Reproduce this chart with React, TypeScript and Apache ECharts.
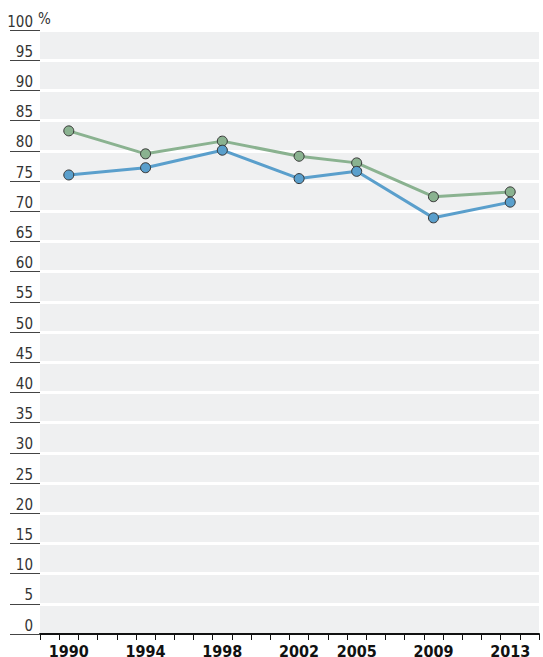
import React, { useEffect, useRef } from "react";
import * as echarts from "echarts";

const years = [1990, 1994, 1998, 2002, 2005, 2009, 2013];
const greenValues = [83.3, 79.5, 81.6, 79.1, 78.0, 72.4, 73.2];
const blueValues = [76.0, 77.2, 80.1, 75.4, 76.6, 68.9, 71.5];
const axisYears = Array.from({ length: 26 }, (_, i) => String(1989 + i));
const yTicks = { min: 0, max: 100, interval: 5 };
const unitLabel = "%";

const FONT = "'Liberation Sans Narrow', 'DejaVu Sans Condensed', 'Roboto', sans-serif";

export default function App() {
  const ref = useRef<HTMLDivElement>(null);
  useEffect(() => {
    if (!ref.current) return;
    const chart = echarts.init(ref.current, undefined, { renderer: "svg" });
    const labelled = new Set(years.map(String));
    const pairs = (vals: number[]) => years.map((y, i) => [String(y), vals[i]]);
    chart.setOption({
      animation: false,
      grid: {
        left: 40,
        right: 4,
        top: 30,
        bottom: 23,
        show: true,
        backgroundColor: "#eff0f1",
        borderWidth: 0,
        containLabel: false,
        outerBoundsMode: "none",
      },
      graphic: [
        {
          type: "text",
          left: 38,
          top: 11,
          style: { text: unitLabel, fontFamily: FONT, fontSize: 15, fill: "#333" },
        },
      ],
      xAxis: {
        type: "category",
        data: axisYears,
        boundaryGap: true,
        axisLine: { show: true, lineStyle: { color: "#111", width: 2 } },
        axisTick: { show: true, interval: 0, length: 6, lineStyle: { color: "#111", width: 1 } },
        axisLabel: {
          interval: 0,
          margin: 9,
          fontFamily: FONT,
          fontWeight: "bold",
          fontSize: 16,
          color: "#111",
          formatter: (v: string) => (labelled.has(v) ? v : ""),
        },
        splitLine: { show: false },
      },
      yAxis: {
        type: "value",
        min: yTicks.min,
        max: yTicks.max,
        interval: yTicks.interval,
        axisLine: { show: false },
        axisTick: { show: true, inside: false, length: 30, lineStyle: { color: "#444", width: 1 } },
        axisLabel: {
          margin: 7,
          fontFamily: FONT,
          fontSize: 15,
          color: "#333",
          verticalAlign: "bottom",
          padding: [0, 0, 1, 0],
        },
        splitLine: { show: true, lineStyle: { color: "#ffffff", width: 3 } },
      },
      series: [
        {
          type: "line",
          data: pairs(greenValues),
          connectNulls: true,
          symbol: "circle",
          symbolSize: 10,
          lineStyle: { color: "#8ab290", width: 3 },
          itemStyle: { color: "#8ab290", borderColor: "#333", borderWidth: 1 },
          z: 3,
        },
        {
          type: "line",
          data: pairs(blueValues),
          connectNulls: true,
          symbol: "circle",
          symbolSize: 10,
          lineStyle: { color: "#5a9fcc", width: 3 },
          itemStyle: { color: "#5a9fcc", borderColor: "#333", borderWidth: 1 },
          z: 4,
        },
      ],
    });
    return () => chart.dispose();
  }, []);
  return <div ref={ref} style={{ width: 543, height: 657, position: "absolute", left: 0, top: 0 }} />;
}
